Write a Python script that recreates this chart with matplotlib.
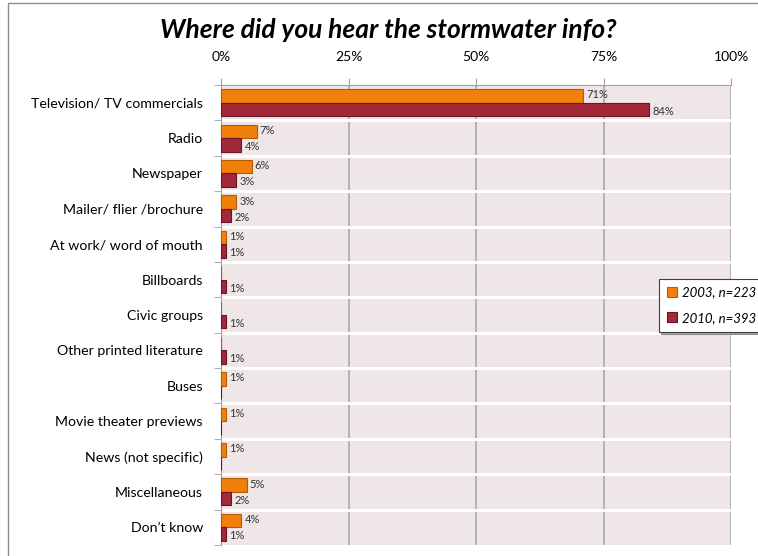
import matplotlib
matplotlib.use("Agg")
import matplotlib.pyplot as plt
import numpy as np
from matplotlib.patches import Rectangle

plt.rcParams['font.family'] = ['Lato', 'DejaVu Sans']

categories = [
    "Television/ TV commercials", "Radio", "Newspaper", "Mailer/ flier /brochure",
    "At work/ word of mouth", "Billboards", "Civic groups", "Other printed literature",
    "Buses", "Movie theater previews", "News (not specific)", "Miscellaneous", "Don\u2019t know",
]
pct_2003 = [71, 7, 6, 3, 1, 0, 0, 0, 1, 1, 1, 5, 4]
pct_2010 = [84, 4, 3, 2, 1, 1, 1, 1, 0, 0, 0, 2, 1]
series_labels = ["2003, n=223", "2010, n=393"]
x_ticks = [0, 25, 50, 75, 100]

c_2003, e_2003 = "#F0800A", "#B85A00"
c_2010, e_2010 = "#A2283A", "#6A1524"

fig = plt.figure(figsize=(7.58, 5.56), dpi=100)
fig.patch.set_facecolor("white")
fig.patches.append(Rectangle((8 / 758, -0.05), 1.2, 1 - 3 / 556 + 0.05,
                             transform=fig.transFigure, fill=False,
                             edgecolor="#8C8C8C", linewidth=1.0))

ax = fig.add_axes([221 / 758, 1 - 545 / 556, 510 / 758, 460 / 556])
ax.set_facecolor("#EFE6E7")

n = len(categories)
y = np.arange(n)
h = 0.38
b1 = ax.barh(y - h / 2, pct_2003, height=h, color=c_2003, edgecolor=e_2003,
             linewidth=0.8, label=series_labels[0], zorder=3)
b2 = ax.barh(y + h / 2, pct_2010, height=h, color=c_2010, edgecolor=e_2010,
             linewidth=0.8, label=series_labels[1], zorder=3)

for bars, vals, dy in ((b1, pct_2003, -0.03), (b2, pct_2010, 0.05)):
    for rect, v in zip(bars, vals):
        if v > 0:
            ax.text(v + 0.6, rect.get_y() + rect.get_height() / 2 + dy, f"{v}%",
                    va="center", ha="left", fontsize=8, color="#333333", zorder=4)

ax.set_xlim(0, 100)
ax.set_ylim(n - 0.5, -0.5)

# white separators between category bands
for b in np.arange(0.5, n - 0.5, 1):
    ax.axhline(b, color="white", linewidth=2.2, zorder=2)

for t in x_ticks[1:]:
    ax.axvline(t, color="#B3B3B3", linewidth=1.4, zorder=1)

ax.xaxis.tick_top()
ax.set_xticks(x_ticks)
ax.set_xticklabels([f"{t}%" for t in x_ticks], fontsize=10)
ax.tick_params(axis="x", direction="out", length=5, color="#A0A0A0", pad=11)

ax.set_yticks(y)
ax.set_yticklabels(categories, fontsize=10.2)
ax.set_yticks(np.arange(-0.5, n, 1), minor=True)
ax.tick_params(axis="y", which="major", length=0, pad=13)
ax.tick_params(axis="y", which="minor", length=5, color="#A0A0A0", direction="out")

for s in ("right", "bottom"):
    ax.spines[s].set_visible(False)
ax.spines["left"].set_color("#A0A0A0")
ax.spines["top"].set_color("#A0A0A0")

fig.text(388 / 758, 1 - 30 / 556, "Where did you hear the stormwater info?",
         ha="center", va="center", fontsize=19, fontweight="bold", style="italic")

leg = fig.legend(handles=[b1, b2], labels=series_labels, loc="upper left",
                 bbox_to_anchor=(652 / 758, 1 - 272 / 556), frameon=True,
                 shadow=True, fancybox=False, prop={"style": "italic", "size": 9.5},
                 handlelength=0.8, handleheight=0.8, handletextpad=0.4,
                 labelspacing=1.0, borderpad=0.6)
leg.get_frame().set_edgecolor("#404040")
leg.get_frame().set_linewidth(0.8)

fig.savefig("out.png", dpi=100)
